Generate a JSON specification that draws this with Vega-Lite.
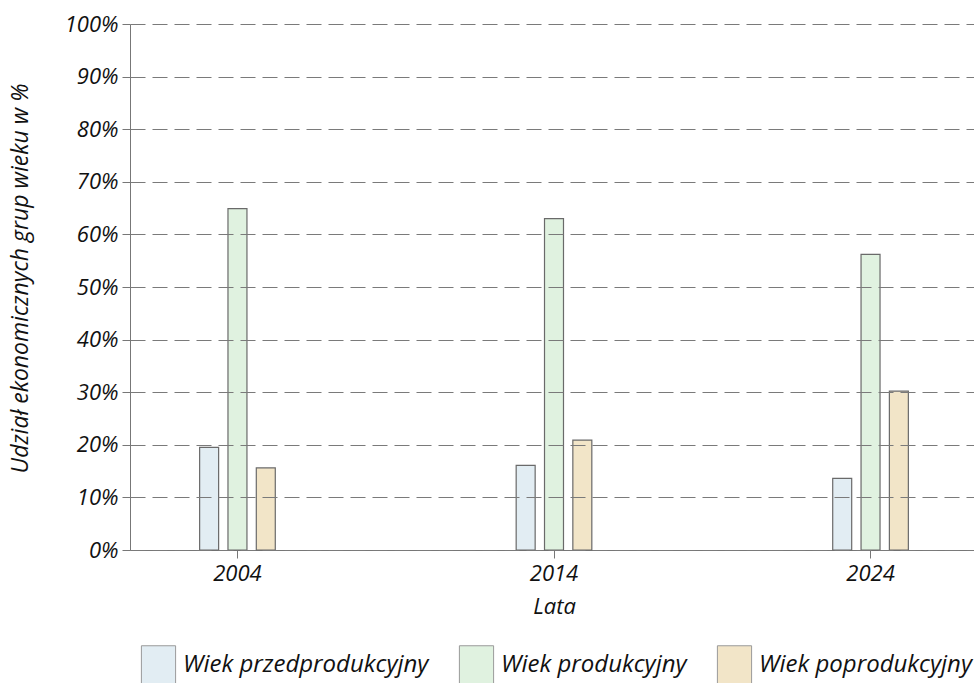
{
  "$schema": "https://vega.github.io/schema/vega-lite/v6.json",
  "width": 848,
  "height": 526,
  "autosize": {"type": "none"},
  "padding": {"left": 130, "top": 24, "right": 0, "bottom": 133},
  "config": {
    "view": {"stroke": null},
    "font": "Open Sans",
    "axis": {
      "labelFont": "Open Sans",
      "labelFontStyle": "italic",
      "labelFontSize": 22,
      "labelColor": "#111111",
      "titleFont": "Open Sans",
      "titleFontStyle": "italic",
      "titleFontWeight": "normal",
      "titleFontSize": 22,
      "titleColor": "#111111",
      "domainColor": "#777777",
      "tickColor": "#777777",
      "tickSize": 8
    }
  },
  "data": {
    "values": [
      {"Rok": "2004", "Grupa": "Wiek przedprodukcyjny", "Udzial": 19.5},
      {"Rok": "2004", "Grupa": "Wiek produkcyjny", "Udzial": 64.9},
      {"Rok": "2004", "Grupa": "Wiek poprodukcyjny", "Udzial": 15.6},
      {"Rok": "2014", "Grupa": "Wiek przedprodukcyjny", "Udzial": 16.1},
      {"Rok": "2014", "Grupa": "Wiek produkcyjny", "Udzial": 63.0},
      {"Rok": "2014", "Grupa": "Wiek poprodukcyjny", "Udzial": 20.9},
      {"Rok": "2024", "Grupa": "Wiek przedprodukcyjny", "Udzial": 13.6},
      {"Rok": "2024", "Grupa": "Wiek produkcyjny", "Udzial": 56.2},
      {"Rok": "2024", "Grupa": "Wiek poprodukcyjny", "Udzial": 30.2}
    ]
  },
  "mark": {"type": "bar", "stroke": "#6a6a6a", "strokeWidth": 1.2},
  "encoding": {
    "x": {
      "field": "Rok",
      "type": "nominal",
      "scale": {"paddingInner": 0.761, "paddingOuter": 0.22},
      "axis": {
        "title": "Lata",
        "labelAngle": 0,
        "labelPadding": 5,
        "titlePadding": 12,
        "grid": false
      }
    },
    "xOffset": {
      "field": "Grupa",
      "type": "nominal",
      "sort": ["Wiek przedprodukcyjny", "Wiek produkcyjny", "Wiek poprodukcyjny"],
      "scale": {"paddingInner": 0.33, "paddingOuter": 0}
    },
    "y": {
      "field": "Udzial",
      "type": "quantitative",
      "scale": {"domain": [0, 100], "nice": false},
      "axis": {
        "title": "Udział ekonomicznych grup wieku w %",
        "values": [0, 10, 20, 30, 40, 50, 60, 70, 80, 90, 100],
        "labelExpr": "datum.value + '%'",
        "labelPadding": 4,
        "grid": true,
        "gridColor": "#7a7a7a",
        "gridDash": [15, 7],
        "gridWidth": 1.2,
        "zindex": 1,
        "titleAngle": -90,
        "titleFontSize": 23,
        "titleX": -110,
        "titleY": 254,
        "titleAlign": "center",
        "titleBaseline": "middle"
      }
    },
    "fill": {
      "field": "Grupa",
      "type": "nominal",
      "sort": ["Wiek przedprodukcyjny", "Wiek produkcyjny", "Wiek poprodukcyjny"],
      "scale": {
        "domain": ["Wiek przedprodukcyjny", "Wiek produkcyjny", "Wiek poprodukcyjny"],
        "range": ["#e2edf3", "#e0f2e0", "#f2e5c8"]
      },
      "legend": {
        "title": null,
        "orient": "none",
        "direction": "horizontal",
        "legendX": 9,
        "legendY": 621,
        "padding": 0,
        "symbolType": "M-0.9,-1H0.9V1H-0.9Z",
        "symbolSize": 1444,
        "symbolStrokeColor": "#9a9a9a",
        "symbolStrokeWidth": 1,
        "symbolOpacity": 1,
        "labelFont": "Open Sans",
        "labelFontStyle": "italic",
        "labelFontSize": 24,
        "labelColor": "#111111",
        "labelOffset": 5,
        "columnPadding": 28,
        "labelLimit": 400
      }
    }
  }
}
